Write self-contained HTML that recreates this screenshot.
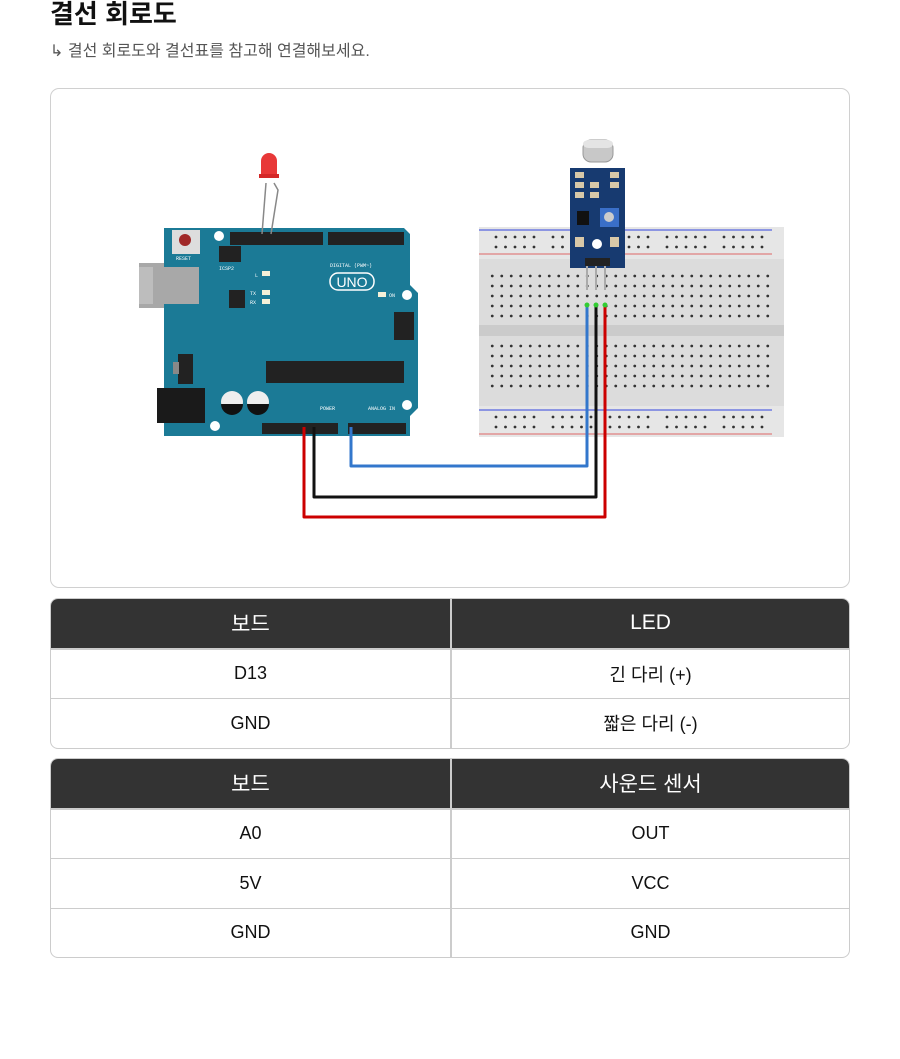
<!DOCTYPE html>
<html><head><meta charset="utf-8"><style>
body{margin:0;background:#fff;font-family:"Liberation Sans","Noto Sans CJK KR",sans-serif;width:900px;height:1059px;position:relative;overflow:hidden}
h1{position:absolute;left:50px;top:-6px;margin:0;font-size:26px;font-weight:bold;color:#111;font-family:"Liberation Sans","Noto Sans CJK KR",sans-serif}
.sub{position:absolute;left:50px;top:37px;font-size:16px;color:#555}
.box{position:absolute;left:50px;top:88px;width:798px;height:498px;border:1px solid #d0d0d0;border-radius:9px}
table{position:absolute;left:50px;width:800px;border-collapse:separate;border-spacing:0;border:1px solid #ccc;border-radius:8px;overflow:hidden;font-size:18px}
td,th{height:48.5px;text-align:center;padding:0;width:50%}
th{background:#333;color:#fff;font-weight:normal;font-size:21px;border-bottom:1px solid #ccc}
th+th,td+td{border-left:2px solid #ccc}
tr+tr td{border-top:1px solid #ccc}
td{color:#111}
</style></head><body>
<h1>결선 회로도</h1>
<div class="sub">↳ 결선 회로도와 결선표를 참고해 연결해보세요.</div>
<div class="box"></div>
<svg style="position:absolute;left:0;top:0" width="900" height="600">
<defs>
<pattern id="g" x="487.5" y="271" width="9.5" height="10" patternUnits="userSpaceOnUse"><circle cx="4.75" cy="5" r="1.4" fill="#333"/></pattern>
<pattern id="r" x="492" y="232" width="57" height="10" patternUnits="userSpaceOnUse"><g fill="#333"><circle cx="4" cy="5" r="1.4"/><circle cx="13.5" cy="5" r="1.4"/><circle cx="23" cy="5" r="1.4"/><circle cx="32.5" cy="5" r="1.4"/><circle cx="42" cy="5" r="1.4"/></g></pattern>
</defs>
<rect x="479" y="227" width="305" height="210" fill="#dcdcdc"/>
<rect x="479" y="227" width="305" height="32" fill="#e6e6e6"/>
<rect x="479" y="406" width="305" height="31" fill="#e6e6e6"/>
<line x1="479" y1="230" x2="772" y2="230" stroke="#3344dd"/>
<line x1="479" y1="254" x2="772" y2="254" stroke="#dd6666"/>
<line x1="479" y1="410" x2="772" y2="410" stroke="#3344dd"/>
<line x1="479" y1="434" x2="772" y2="434" stroke="#dd6666"/>
<rect x="487" y="232" width="285" height="20" fill="url(#r)"/>
<rect x="487" y="411" width="285" height="20" fill="url(#r)"/>
<rect x="487.5" y="271" width="285" height="50" fill="url(#g)"/>
<rect x="487.5" y="342" width="285" height="50" fill="url(#g)"/>
<rect x="479" y="325" width="305" height="11" fill="#cbcbcb"/>
<rect x="583" y="140" width="30" height="22" rx="8" fill="#c8c8c8" stroke="#999"/>
<rect x="583" y="140" width="30" height="8" rx="6" fill="#e4e4e4"/>
<rect x="570" y="168" width="55" height="100" fill="#173a70"/>
<rect x="600" y="208" width="19" height="19" fill="#3a6fc8"/>
<circle cx="609" cy="217" r="5" fill="#ccc"/>
<rect x="577" y="211" width="12" height="14" fill="#111"/>
<circle cx="597" cy="244" r="5" fill="#fff"/>
<g fill="#d8c8a8"><rect x="575" y="172" width="9" height="6"/><rect x="575" y="182" width="9" height="6"/><rect x="575" y="192" width="9" height="6"/><rect x="590" y="182" width="9" height="6"/><rect x="590" y="192" width="9" height="6"/><rect x="610" y="172" width="9" height="6"/><rect x="610" y="182" width="9" height="6"/><rect x="575" y="237" width="9" height="10"/><rect x="610" y="237" width="9" height="10"/></g>
<rect x="585" y="258" width="25" height="8" fill="#222"/>
<g stroke="#aaa" stroke-width="2"><line x1="587" y1="266" x2="587" y2="290"/><line x1="596" y1="266" x2="596" y2="290"/><line x1="605" y1="266" x2="605" y2="290"/></g>
<rect x="139" y="263" width="60" height="45" fill="#a8a8a8"/>
<path d="M164,228 L404,228 L410,234 L410,285 L418,293 L418,408 L410,416 L410,436 L164,436 Z" fill="#1b7a96"/>
<rect x="139" y="267" width="60" height="37" fill="#a8a8a8"/>
<rect x="139" y="267" width="14" height="37" fill="#bdbdbd"/>
<rect x="157" y="388" width="48" height="35" fill="#1a1a1a"/>
<rect x="172" y="230" width="28" height="24" fill="#ddd"/><circle cx="185" cy="240" r="6" fill="#a02828"/>
<rect x="219" y="246" width="22" height="16" fill="#222"/>
<rect x="229" y="290" width="16" height="18" fill="#222"/>
<rect x="266" y="361" width="138" height="22" fill="#222"/>
<rect x="178" y="354" width="15" height="30" fill="#222"/><rect x="173" y="362" width="6" height="12" fill="#888"/>
<circle cx="232" cy="402" r="11" fill="#eee"/><circle cx="258" cy="402" r="11" fill="#eee"/>
<path d="M221,404 h22 a11,11 0 0 1 -22,0z" fill="#111"/><path d="M247,404 h22 a11,11 0 0 1 -22,0z" fill="#111"/>
<rect x="394" y="312" width="20" height="28" fill="#222"/>
<rect x="230" y="232" width="93" height="13" fill="#222"/>
<rect x="328" y="232" width="76" height="13" fill="#222"/>
<rect x="262" y="423" width="76" height="11" fill="#222"/>
<rect x="348" y="423" width="58" height="11" fill="#222"/>
<rect x="330" y="273" width="44" height="17" rx="8" fill="none" stroke="#fff" stroke-width="1.5"/>
<text x="352" y="287" font-size="14" fill="#fff" text-anchor="middle" font-family="Liberation Sans">UNO</text>
<g fill="#f4f0d8"><rect x="262" y="271" width="8" height="5"/><rect x="262" y="290" width="8" height="5"/><rect x="262" y="299" width="8" height="5"/><rect x="378" y="292" width="8" height="5"/></g>
<g fill="#fff" font-size="5" font-family="Liberation Mono"><text x="255" y="277">L</text><text x="250" y="295">TX</text><text x="250" y="304">RX</text><text x="389" y="297">ON</text><text x="176" y="260">RESET</text><text x="219" y="270">ICSP2</text><text x="330" y="267">DIGITAL (PWM~)</text><text x="320" y="410">POWER</text><text x="368" y="410">ANALOG IN</text></g>
<g fill="#fff"><circle cx="219" cy="236" r="5"/><circle cx="407" cy="295" r="5"/><circle cx="407" cy="405" r="5"/><circle cx="215" cy="426" r="5"/></g>
<g stroke="#888" stroke-width="1.5" fill="none"><path d="M266,183 L262,234"/><path d="M274,183 L278,190 L271,234"/></g>
<path d="M261,175 v-14 a8,8 0 0 1 16,0 v14z" fill="#e83838"/><rect x="259" y="174" width="20" height="4" fill="#d42828"/>
<g fill="none" stroke-width="3" stroke-linejoin="round">
<path d="M587,305 V466 H351 V427" stroke="#3377cc"/>
<path d="M596,305 V497 H314 V427" stroke="#111"/>
<path d="M605,305 V517 H304 V427" stroke="#c00"/>
</g>
<g fill="#3c3"><circle cx="587" cy="305" r="2.5"/><circle cx="596" cy="305" r="2.5"/><circle cx="605" cy="305" r="2.5"/></g>
</svg>
<table style="top:598px"><tr><th>보드</th><th>LED</th></tr><tr><td>D13</td><td>긴 다리 (+)</td></tr><tr><td>GND</td><td>짧은 다리 (-)</td></tr></table>
<table style="top:758px"><tr><th>보드</th><th>사운드 센서</th></tr><tr><td>A0</td><td>OUT</td></tr><tr><td>5V</td><td>VCC</td></tr><tr><td>GND</td><td>GND</td></tr></table>
</body></html>
